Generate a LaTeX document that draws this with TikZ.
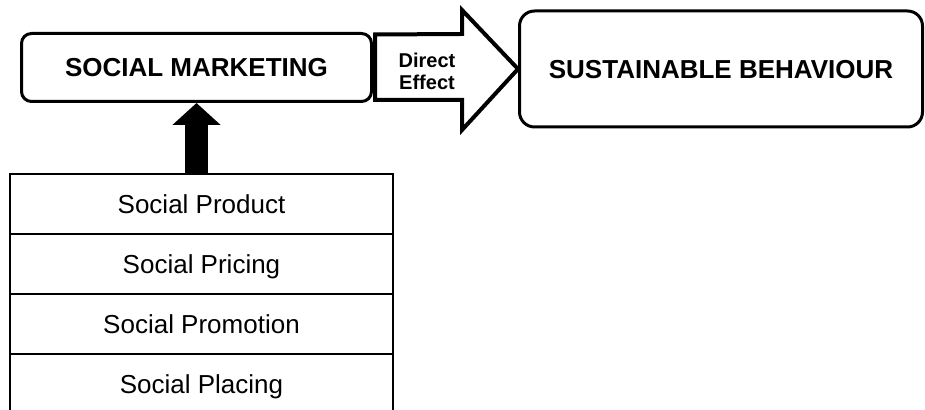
\documentclass[tikz,border=0pt]{standalone}
\usepackage{fontspec}
\setmainfont{Liberation Sans}
\usetikzlibrary{arrows.meta,calc}

\begin{document}
\begin{tikzpicture}[x=0.5pt, y=-0.5pt,
		roundbox/.style={draw, line width=1.5pt, align=center, text height=9.3pt, text depth=0pt, font=\bfseries\fontsize{13}{15}\selectfont},
		rowbox/.style={draw, line width=1.1pt, minimum width=191.5pt, minimum height=30pt, inner sep=0pt, text height=9.3pt, text depth=0pt, font=\fontsize{13}{15}\selectfont}]
		\clip (0,0) rectangle (925,410);
		\node[roundbox, rounded corners=5pt, minimum width=175pt, minimum height=34pt] (mkt) at (196.5,67.5) {SOCIAL MARKETING};
		\node[roundbox, rounded corners=7.5pt, minimum width=201.5pt, minimum height=58pt] (beh) at (721,69) {SUSTAINABLE BEHAVIOUR};
		\node[rowbox] (prod) at (201.5,204) {Social Product};
		\node[rowbox] (pric) at (201.5,264) {Social Pricing};
		\node[rowbox] (prom) at (201.5,324) {Social Promotion};
		\node[rowbox] (plac) at (201.5,384) {Social Placing};
		\draw[line width=11.5pt, -{Triangle[width=23.5pt,length=11pt]}] (mkt.south |- prod.north) -- (mkt.south);
		\draw[line width=2pt, line join=miter, fill=white]
		($(mkt.east)+(2,-33)$) -- ($(beh.west)+(-56,-35)$) -- ($(beh.west)+(-56,-59)$) -- (beh.west)
		-- ($(beh.west)+(-56,61)$) -- ($(beh.west)+(-56,31)$) -- ($(mkt.east)+(2,32.5)$) -- cycle;
		\node[align=center, inner sep=0pt, font=\bfseries\fontsize{10}{11}\selectfont] (eff) at (427,71) {Direct\\Effect};
		\end{tikzpicture}
\end{document}
